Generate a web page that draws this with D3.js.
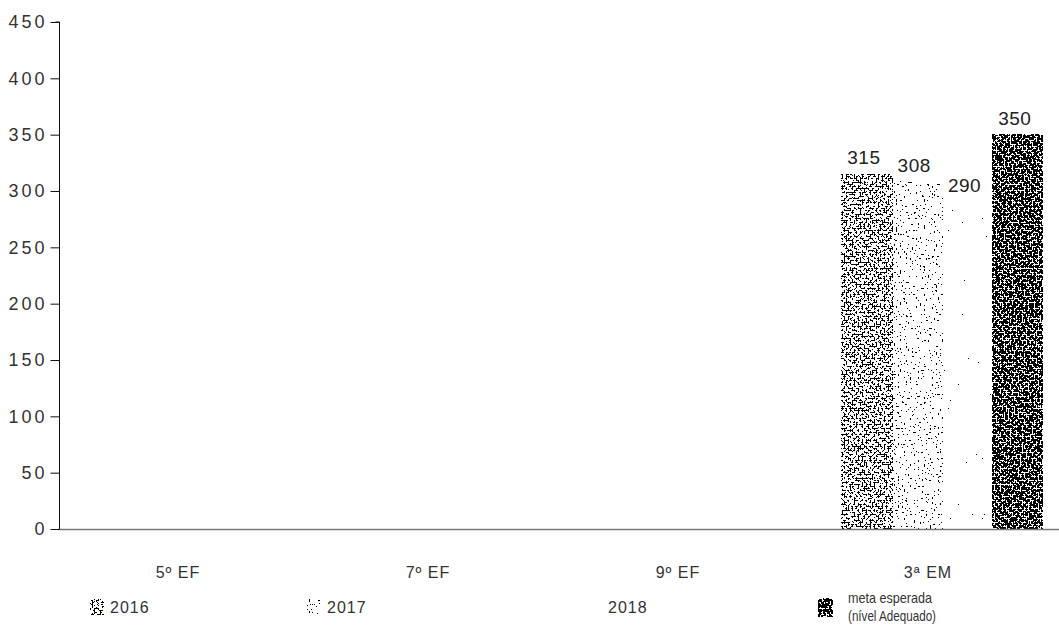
<!DOCTYPE html>
<html>
<head>
<meta charset="utf-8">
<script src="https://cdn.jsdelivr.net/npm/d3@7"></script>
<style>
  body { margin: 0; background: #fff; }
  svg { display: block; font-family: "Liberation Sans", Arial, sans-serif; }
</style>
</head>
<body>
<svg class="canvas"></svg>
<script>
/*
  Proficiency bar chart (scanned look) - 5º EF .. 3ª EM
*/

var width = 1059;
var height = 638;

// data
var categories = ["5º EF", "7º EF", "9º EF", "3ª EM"];
var seriesNames = ["2016", "2017", "2018", "meta esperada"];
var values2016 = [null, null, null, 315];
var values2017 = [null, null, null, 308];
var values2018 = [null, null, null, 290];
var valuesMeta = [null, null, null, 350];
var yTicks = [0, 50, 100, 150, 200, 250, 300, 350, 400, 450];
var legendLabels = [["2016"], ["2017"], ["2018"], ["meta esperada", "(nível Adequado)"]];

var allValues = [values2016, values2017, values2018, valuesMeta];

// dither threshold per series (higher = lighter)
var dens = [0.505, 0.67, 0.77, 0.46];

var svg = d3.select(".canvas").attr("width", width).attr("height", height);

// dithered fills made from noise
var defs = svg.append("defs");
dens.forEach(function(t, i) {
  var f = defs.append("filter").attr("id", "dith" + i)
    .attr("x", 0).attr("y", 0).attr("width", 1).attr("height", 1);
  f.append("feTurbulence").attr("type", "fractalNoise")
    .attr("baseFrequency", 0.5).attr("numOctaves", 2).attr("seed", 7 + i).attr("result", "n");
  f.append("feColorMatrix").attr("in", "n").attr("type", "matrix")
    .attr("values", "0 0 0 0 0  0 0 0 0 0  0 0 0 0 0  30 0 0 0 " + (-30 * t))
    .attr("result", "a");
  var ct = f.append("feComponentTransfer").attr("in", "a").attr("result", "b");
  ct.append("feFuncA").attr("type", "discrete").attr("tableValues", "0 1");
  f.append("feFlood").attr("flood-color", "#000").attr("result", "blk");
  f.append("feComposite").attr("in", "blk").attr("in2", "b").attr("operator", "in");
});

// scales
var y = d3.scaleLinear().domain([0, 450]).range([529, 22]);
var x0 = d3.scaleBand().domain(categories).range([58, 1058]);
var bw = x0.bandwidth();
var x1 = d3.scaleBand().domain(seriesNames).range([0.135 * bw, 0.94 * bw]);

// bars
var bars = [];
categories.forEach(function(c, ci) {
  seriesNames.forEach(function(s, si) {
    var v = allValues[si][ci];
    if (v != null) bars.push({cat: c, s: s, si: si, v: v});
  });
});

svg.selectAll("rect.bar")
  .data(bars)
  .enter()
  .append("rect")
  .attr("class", "bar")
  .attr("x", function(d) { return x0(d.cat) + x1(d.s); })
  .attr("y", function(d) { return y(d.v); })
  .attr("width", x1.bandwidth())
  .attr("height", function(d) { return y(0) - y(d.v); })
  .attr("fill", "#000")
  .attr("filter", function(d) { return "url(#dith" + d.si + ")"; });

svg.selectAll("text.val")
  .data(bars)
  .enter()
  .append("text")
  .attr("class", "val")
  .attr("x", function(d) { return x0(d.cat) + x1(d.s) + x1.bandwidth() / 2 - 3; })
  .attr("y", function(d) { return y(d.v) - 10; })
  .attr("text-anchor", "middle")
  .attr("font-size", "19px")
  .attr("letter-spacing", "0.5px")
  .attr("fill", "#222")
  .text(function(d) { return d.v; });

// x axis line
svg.append("line")
  .attr("x1", 58).attr("x2", 1059)
  .attr("y1", y(0) + 0.5).attr("y2", y(0) + 0.5)
  .attr("stroke", "#777").attr("stroke-width", 1.5);

// y axis
var yAxis = d3.axisLeft(y).tickValues(yTicks).tickSize(9).tickPadding(3);
var gy = svg.append("g").attr("transform", "translate(59.5,0)").call(yAxis);
gy.select(".domain").attr("stroke", "#111").attr("d", "M-4," + y(450) + "H0V" + y(0));
gy.selectAll(".tick line").attr("stroke", "#111");
gy.selectAll(".tick text")
  .attr("font-size", "18px")
  .attr("letter-spacing", "3px")
  .attr("fill", "#333")
  .attr("font-family", "\"Liberation Sans\", Arial, sans-serif");

// category labels
svg.selectAll("text.cat")
  .data(categories)
  .enter()
  .append("text")
  .attr("class", "cat")
  .attr("x", function(d) { return x0(d) + bw / 2 - 5; })
  .attr("y", 578)
  .attr("text-anchor", "middle")
  .attr("font-size", "16px")
  .attr("letter-spacing", "1px")
  .attr("fill", "#333")
  .text(function(d) { return d; });

// legend
var legX = [90, 307, 588, 818];
var leg = svg.selectAll("g.leg")
  .data(legendLabels)
  .enter()
  .append("g")
  .attr("class", "leg")
  .attr("transform", function(d, i) { return "translate(" + legX[i] + ",0)"; });

leg.append("rect")
  .attr("x", 0)
  .attr("y", function(d, i) { return i == 3 ? 598 : 599; })
  .attr("width", function(d, i) { return i == 3 ? 15 : 14; })
  .attr("height", function(d, i) { return i == 3 ? 19 : 16; })
  .attr("fill", "#000")
  .attr("filter", function(d, i) { return "url(#dith" + i + ")"; });

var metaLen = [84, 88];
leg.each(function(d, i) {
  var g = d3.select(this);
  d.forEach(function(line, li) {
    var t = g.append("text")
      .attr("x", i == 3 ? 30 : 20)
      .attr("y", d.length > 1 ? 603 + li * 18 : 613)
      .attr("font-size", d.length > 1 ? "15px" : "16px")
      .attr("letter-spacing", d.length > 1 ? null : "1px")
      .attr("fill", "#333")
      .text(line);
    if (d.length > 1) t.attr("textLength", metaLen[li]).attr("lengthAdjust", "spacingAndGlyphs");
  });
});
</script>
</body>
</html>
